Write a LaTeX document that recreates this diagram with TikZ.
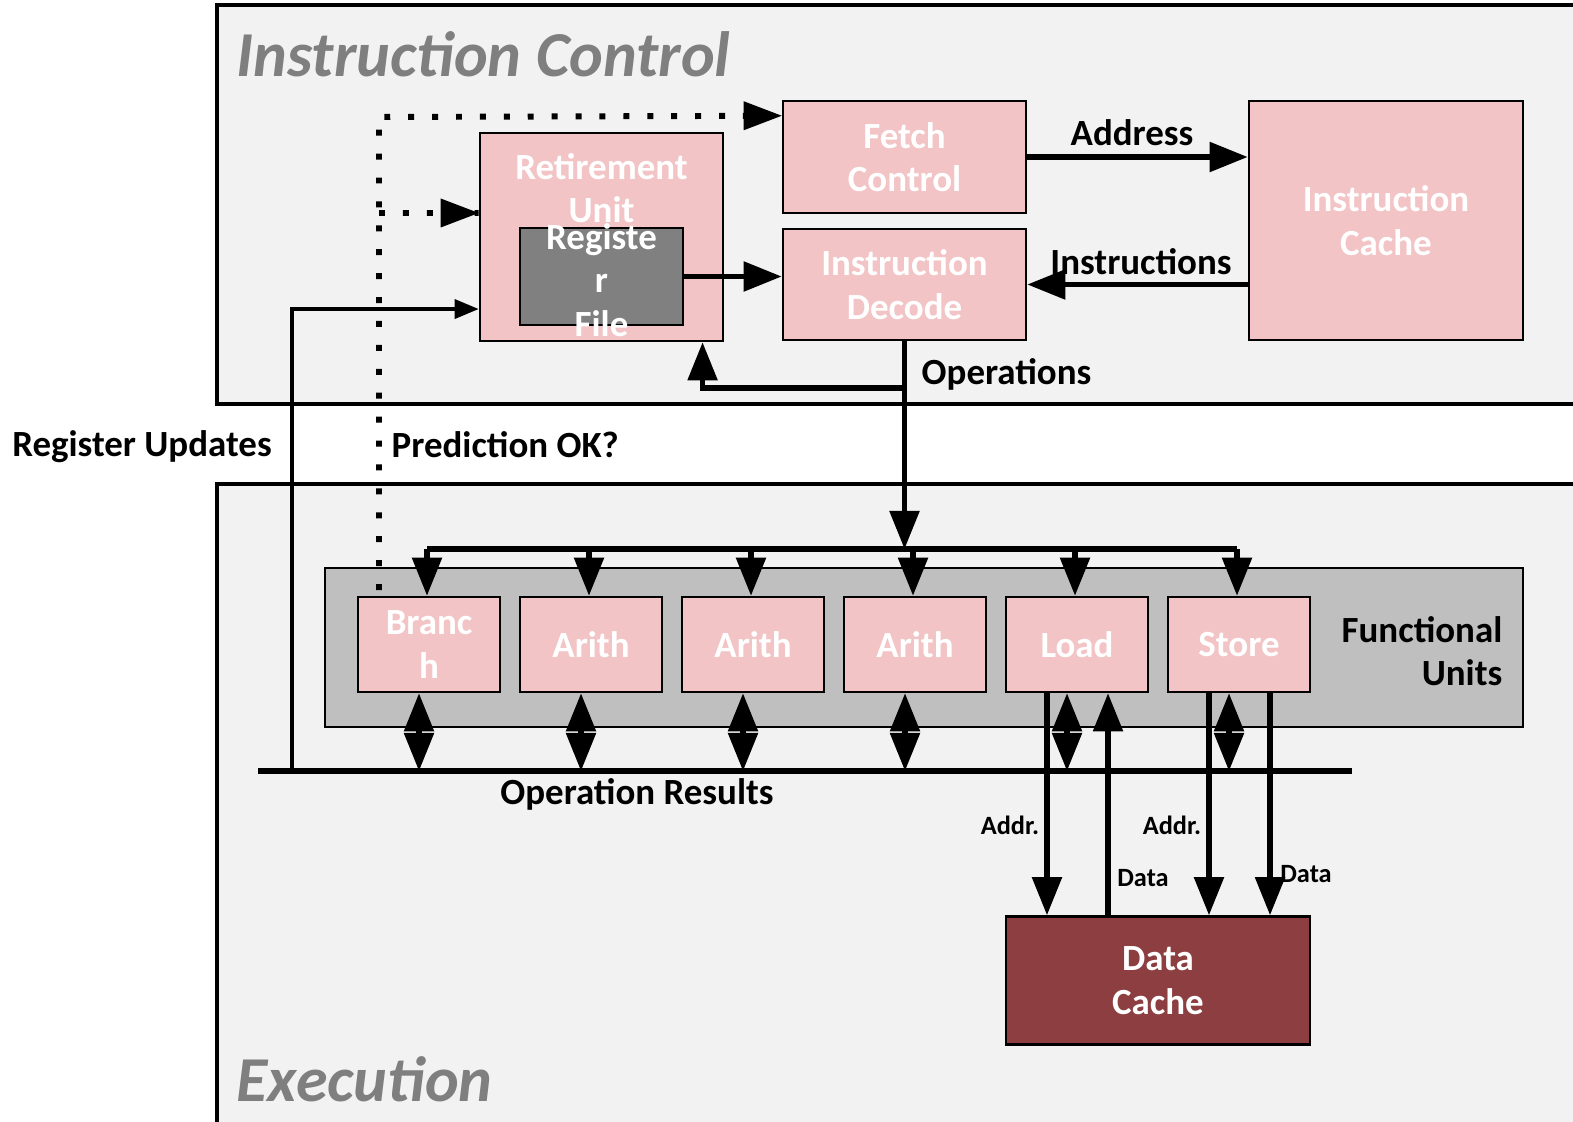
\documentclass[tikz,border=0pt]{standalone}
\usepackage{fontspec}
\setmainfont{Carlito}
\usetikzlibrary{arrows.meta}
\definecolor{panelColor}{RGB}{242,242,242}
\definecolor{unitColor}{RGB}{242,196,197}
\definecolor{fuColor}{RGB}{191,191,191}
\definecolor{regColor}{RGB}{128,128,128}
\definecolor{cacheColor}{RGB}{140,62,64}
\definecolor{titleColor}{RGB}{127,127,127}
\tikzstyle{diagram} = [x = .01cm, y = -.01cm]
\tikzstyle{panel} = [draw = black, fill = panelColor, line width = 1.3pt]
\tikzstyle{fuPanel} = [draw = black, fill = fuColor, line width = .5pt]
\tikzstyle{unitBox} = [draw = black, fill = unitColor, line width = .7pt, inner sep = 0pt, text = white, align = center, font = \fontsize{10.5}{12.4}\selectfont\bfseries]
\tikzstyle{labelText} = [inner sep = 0pt, font = \fontsize{10.5}{12.4}\selectfont\bfseries]
\tikzstyle{smallText} = [inner sep = 0pt, anchor = base, font = \fontsize{7.5}{9}\selectfont\bfseries]
\tikzstyle{titleText} = [inner sep = 0pt, anchor = base west, text = titleColor, font = \fontsize{18.2}{21}\selectfont\bfseries\itshape]
\tikzstyle{flowArrow} = [line width = 1.5pt, -{Triangle[length = .38cm, width = .29cm]}]
\tikzstyle{dualArrow} = [line width = 1.5pt, {Triangle[length = .38cm, width = .29cm]}-{Triangle[length = .38cm, width = .29cm]}]
\tikzstyle{thinArrow} = [line width = 1pt, -{Triangle[length = .24cm, width = .19cm]}]
\tikzstyle{dotLine} = [line width = 1.7pt, dash pattern = on 1.7pt off 5.1pt]
\tikzstyle{busLine} = [line width = 1.6pt]
\newcommand{\funcUnit}[3]{\node [unitBox, minimum width = 1.42cm, minimum height = .95cm] (#1) at (#2, 644.5) {#3};}

\begin{document}
\begin{tikzpicture}[diagram]
  \useasboundingbox (0,0) rectangle (1573,1121);
  \filldraw [panel] (217,5) rectangle (1600,404);
  \filldraw [panel] (217,484) rectangle (1600,1150);
  \node [titleText] (ctrlTitle) at (236,76) {Instruction Control};
  \node [titleText] (execTitle) at (236,1101) {Execution};

  \node [unitBox, minimum width = 2.43cm, minimum height = 1.12cm] (fetch) at (904.5,157) {Fetch\\Control};
  \node [unitBox, minimum width = 2.43cm, minimum height = 1.11cm] (decode) at (904.5,284.5) {Instruction\\Decode};
  \node [unitBox, minimum width = 2.74cm, minimum height = 2.39cm] (icache) at (1386,220.5) {Instruction\\Cache};
  \node [unitBox, minimum width = 2.43cm, minimum height = 2.08cm] (retire) at (601.5,237) {};
  \node [labelText, text = white, align = center] (retireText) at (601.5,188) {Retirement\\Unit};
  \node [unitBox, fill = regColor, minimum width = 1.63cm, minimum height = .97cm] (regfile) at (601.5,276.5) {};
  \node [labelText, text = white, align = center] (regfileText) at (601.5,280) {Registe\\r\\File};

  \filldraw [fuPanel] (325,568) rectangle (1523,727);
  \funcUnit{branch}{429}{Branc\\h}
  \funcUnit{arithA}{591}{Arith}
  \funcUnit{arithB}{753}{Arith}
  \funcUnit{arithC}{915}{Arith}
  \funcUnit{load}{1077}{Load}
  \funcUnit{store}{1239}{Store}
  \node [labelText, align = right, anchor = east] (fuLabel) at (1503,651) {Functional\\Units};
  \node [unitBox, fill = cacheColor, minimum width = 3.04cm, minimum height = 1.28cm] (dcache) at (1158,980.5) {Data\\Cache};

  \coordinate (distBus) at (904.5,549);
  \coordinate (resLeft) at (258,771);
  \coordinate (resRight) at (1352,771);
  \coordinate (updTap) at (292,771);
  \coordinate (opsTap) at (904.5,388);
  \coordinate (predStart) at (379,590);

  \draw [flowArrow] (fetch.east) -- (fetch.east -| icache.west);
  \draw [flowArrow] (decode.east -| icache.west) -- (decode.east);
  \draw [flowArrow] (regfile.east) -- (regfile.east -| decode.west);
  \draw [flowArrow] (decode.south) -- (distBus);
  \draw [flowArrow] (opsTap) -| ([xshift = 1.01cm]retire.south);
  \draw [dotLine] (predStart) -- (predStart |- 0,117) -- ([yshift = -.16cm]fetch.north west);
  \fill ([yshift = -.16cm]fetch.north west) -- ++(-38,-14.5) -- ++(0,29) -- cycle;
  \draw [dotLine] (predStart |- 0,213) -- ([yshift = .24cm]retire.west);
  \fill ([yshift = .24cm]retire.west) -- ++(-38,-14.5) -- ++(0,29) -- cycle;
  \draw [thinArrow] (updTap) |- ([yshift = -.72cm]retire.west);
  \draw [busLine] (resLeft) -- (resRight);
  \draw [busLine] ([xshift = -.02cm]branch.north |- distBus) -- ([xshift = -.02cm]store.north |- distBus);
  \foreach \unit in {branch, arithA, arithB, arithC, load, store} {
    \draw [flowArrow] ([xshift = -.02cm]\unit.north |- distBus) -- ([xshift = -.02cm]\unit.north);
    \draw [dualArrow] ([xshift = -.1cm]\unit.south) -- ([xshift = -.1cm]\unit.south |- resLeft);
  }
  \draw [flowArrow] ([xshift = -.3cm]load.south) -- ([xshift = -.3cm]load.south |- dcache.north);
  \draw [flowArrow] ([xshift = .31cm]load.south |- dcache.north) -- ([xshift = .31cm]load.south);
  \draw [flowArrow] ([xshift = -.3cm]store.south) -- ([xshift = -.3cm]store.south |- dcache.north);
  \draw [flowArrow] ([xshift = .31cm]store.south) -- ([xshift = .31cm]store.south |- dcache.north);

  \node [labelText, anchor = base] (addrLabel) at (1132,145) {Address};
  \node [labelText, anchor = base] (instrLabel) at (1141,274) {Instructions};
  \node [labelText, anchor = base west] (opsLabel) at (921,384) {Operations};
  \node [labelText, anchor = base] (updLabel) at (142,456) {Register Updates};
  \node [labelText, anchor = base west] (predLabel) at (391,457) {Prediction OK?};
  \node [labelText, anchor = base] (resLabel) at (637,804) {Operation Results};
  \node [smallText] (loadAddr) at (1010,834) {Addr.};
  \node [smallText] (loadData) at (1143,886) {Data};
  \node [smallText] (storeAddr) at (1172,834) {Addr.};
  \node [smallText] (storeData) at (1306,882) {Data};
\end{tikzpicture}
\end{document}
